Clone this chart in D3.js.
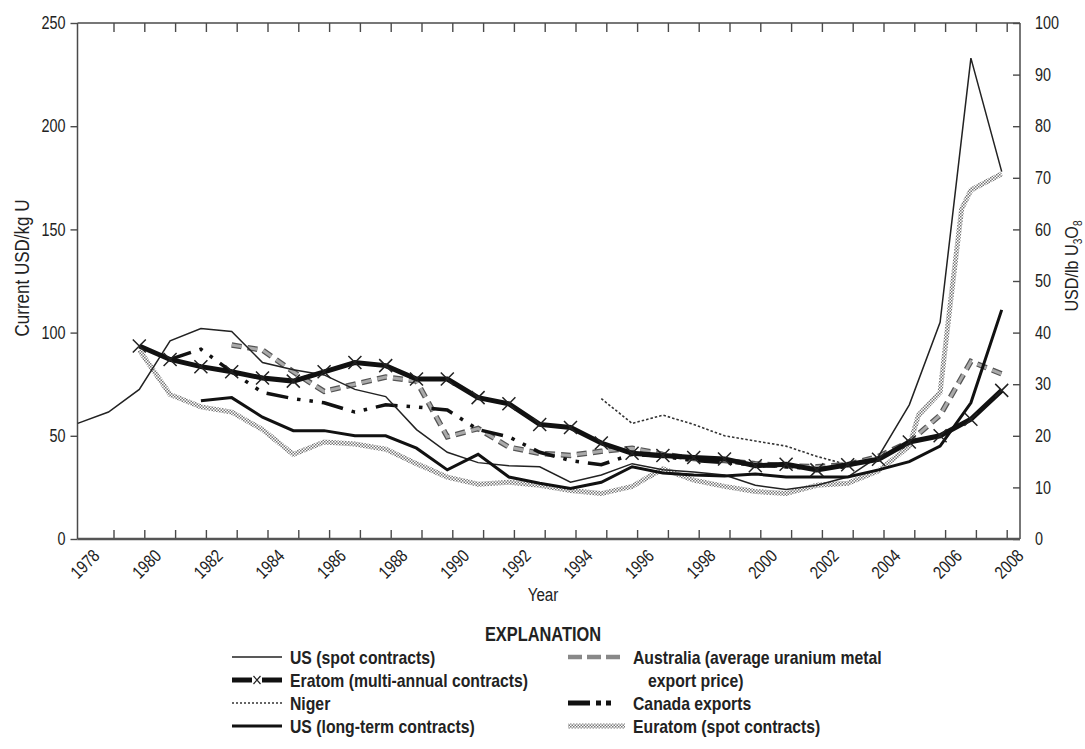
<!DOCTYPE html>
<html><head><meta charset="utf-8">
<script src="https://cdn.jsdelivr.net/npm/d3@7"></script>
<style>
html,body{margin:0;padding:0;background:#fff;}
svg{display:block;}
svg text{font-family:"Liberation Sans",Arial,sans-serif;fill:#222;}
</style></head>
<body>
<svg id="chart" width="1085" height="749"></svg>
<script>
// ---------- data (USD/kg U) ----------
const usSpotYears = [1978,1979,1980,1981,1982,1983,1984,1985,1986,1987,1988,1989,1990,1991,1992,1993,1994,1995,1996,1997,1998,1999,2000,2001,2002,2003,2004,2005,2006,2007,2008];
const usSpotValues = [56,61.5,72.5,96,102,100.5,85.5,82,79.5,72.5,69,53,42,37,35.5,35,27.5,31,36.5,33.5,32.5,31,26,24,26,30,40,65,105,233,178];

const eratomYears = [1980,1981,1982,1983,1984,1985,1986,1987,1988,1989,1990,1991,1992,1993,1994,1995,1996,1997,1998,1999,2000,2001,2002,2003,2004,2005,2006,2007,2008];
const eratomValues = [93.5,87,83.5,81,78,76.5,81,85.5,84,77.5,77.5,68.5,65.5,55.5,54,46.5,41.5,40.5,39.5,38.8,35.5,36.2,33.5,36,38.6,47,50,58,72];

const nigerYears = [1995,1996,1997,1998,1999,2000,2001,2002,2003];
const nigerValues = [68,56,60,55.5,50,47.5,45,40,36];

const usLongYears = [1982,1983,1984,1985,1986,1987,1988,1989,1990,1991,1992,1993,1994,1995,1996,1997,1998,1999,2000,2001,2002,2003,2004,2005,2006,2007,2008];
const usLongValues = [67,68.5,59,52.5,52.5,50,50,44,33.5,41,30,27,24.5,27.5,35,32,31,30.5,31.5,30,30,30,33.5,37.5,45,66,111];

const australiaYears = [1983,1984,1985,1986,1987,1988,1989,1990,1991,1992,1993,1994,1995,1996,1997,1998,1999,2000,2001,2002,2003,2004,2005,2006,2007,2008];
const australiaValues = [94,91.5,81,71.5,75,78.5,76.5,49.5,53.5,44.5,41.5,40.5,42.5,44,41,39,38,36.5,35.5,35,36,40,47,60,86,80];

const canadaYears = [1981,1982,1983,1984,1985,1986,1987,1988,1989,1990,1991,1992,1993,1994,1995,1996,1997,1998,1999,2000,2001,2002,2003];
const canadaValues = [87,92,81,71,68,66,61.5,65,64,62.5,53,49.5,42,38,36,41,40,38,37,36,35,34,35];

const euratomSpotYears = [1980,1981,1982,1983,1984,1985,1986,1987,1988,1989,1990,1991,1992,1993,1994,1995,1996,1997,1998,1999,2000,2001,2002,2003,2004,2005,2005.3,2006,2006.3,2006.7,2007,2008];
const euratomSpotValues = [91.5,70,64,61.5,53,41,47,46,43.5,36.5,30,26.5,27.5,26,23.5,22,25.5,34,28.5,25.5,23,22,26,27,33,45,60,71,110,160,169,177];

const leftTicks = [0,50,100,150,200,250];
const rightTicks = [0,10,20,30,40,50,60,70,80,90,100];
const yearLabels = d3.range(1978,2009,2);
const yearTicks = d3.range(1979,2009,1);

// ---------- layout ----------
const svg = d3.select("#chart");
const L = 77.5, R = 1020, T = 23, B = 539;
const xAxisScale = d3.scaleLinear().domain([1978,2008]).range([82.7,1006.7]);
const xData = d3.scaleLinear().domain([1978,2008]).range([77.7,1001.7]);
const y = d3.scaleLinear().domain([0,250]).range([B,T]);
const y2 = d3.scaleLinear().domain([0,100]).range([B,T]);
const NARROW = 0.8;

function ctext(parent, o){
  const t = parent.append("text")
    .attr("transform",`translate(${o.x},${o.y})${o.rot?` rotate(${o.rot})`:""} scale(${o.sx||NARROW},1)`)
    .attr("text-anchor",o.anchor||"start")
    .attr("font-size",o.size||17)
    .attr("font-weight",o.weight||"normal");
  if(o.dy) t.attr("dy",o.dy);
  if(o.text!==undefined) t.text(o.text);
  return t;
}

const defs = svg.append("defs");
const pat = defs.append("pattern").attr("id","checker").attr("patternUnits","userSpaceOnUse")
  .attr("width",3).attr("height",3);
pat.append("rect").attr("x",0).attr("y",0).attr("width",1.5).attr("height",1.5).attr("fill","#777");
pat.append("rect").attr("x",1.5).attr("y",1.5).attr("width",1.5).attr("height",1.5).attr("fill","#777");

const axisColor = "#4a4a4a";
svg.append("line").attr("x1",L).attr("x2",R).attr("y1",T).attr("y2",T).attr("stroke",axisColor).attr("stroke-width",1.5);
svg.append("line").attr("x1",L).attr("x2",L).attr("y1",T).attr("y2",B).attr("stroke",axisColor).attr("stroke-width",1.5);
svg.append("line").attr("x1",R).attr("x2",R).attr("y1",T).attr("y2",B).attr("stroke",axisColor).attr("stroke-width",1.5);

const gl = svg.append("g").attr("transform",`translate(${L},0)`)
  .call(d3.axisLeft(y).tickValues(leftTicks).tickSize(7).tickPadding(5));
gl.select(".domain").remove();
const gr = svg.append("g").attr("transform",`translate(${R},0)`)
  .call(d3.axisRight(y2).tickValues(rightTicks).tickSize(-7).tickPadding(15));
gr.select(".domain").remove();
const gt = svg.append("g").attr("transform",`translate(0,${T})`)
  .call(d3.axisTop(xAxisScale).tickValues(yearTicks).tickSize(-9).tickFormat(""));
gt.select(".domain").remove();
const gb = svg.append("g").attr("transform",`translate(0,${B})`)
  .call(d3.axisBottom(xAxisScale).tickValues(yearTicks).tickSize(-9).tickFormat(""));
gb.select(".domain").remove();
svg.selectAll(".tick line").attr("stroke",axisColor).attr("stroke-width",1.4);
svg.selectAll(".tick text").each(function(){
  const s = d3.select(this); const x0 = +s.attr("x");
  s.attr("x",0).attr("transform",`translate(${x0},0) scale(${NARROW},1)`)
   .attr("font-size",18).attr("fill","#222").attr("font-family",null);
});
svg.append("line").attr("x1",L).attr("x2",R).attr("y1",B).attr("y2",B).attr("stroke","#555").attr("stroke-width",2.5);

const xl = svg.append("g");
yearLabels.forEach(d=>ctext(xl,{x:xAxisScale(d)+9,y:B+9,rot:-45,anchor:"end",size:18,dy:"0.71em",text:d}));

ctext(svg,{x:543,y:601,anchor:"middle",size:19,text:"Year"});
ctext(svg,{x:29,y:268,rot:-90,anchor:"middle",size:20,sx:0.85,text:"Current USD/kg U"});
const rt = ctext(svg,{x:1078,y:266,rot:-90,anchor:"middle",size:19,sx:0.85});
rt.append("tspan").text("USD/lb U");
rt.append("tspan").attr("font-size",12).attr("dy",4).text("3");
rt.append("tspan").attr("font-size",19).attr("dy",-4).text("O");
rt.append("tspan").attr("font-size",12).attr("dy",4).text("8");

// ---------- lines ----------
const lineGen = d3.line().x(d=>xData(d[0])).y(d=>y(d[1]));
const zip = (a,b)=>a.map((v,i)=>[v,b[i]]);
const plot = svg.append("g");

plot.append("path").datum(zip(euratomSpotYears,euratomSpotValues)).attr("d",lineGen)
  .attr("fill","none").attr("stroke","url(#checker)").attr("stroke-width",5);
plot.append("path").datum(zip(nigerYears,nigerValues)).attr("d",lineGen)
  .attr("fill","none").attr("stroke","#333").attr("stroke-width",1.6).attr("stroke-dasharray","2.5,2");
plot.append("path").datum(zip(australiaYears,australiaValues)).attr("d",lineGen)
  .attr("fill","none").attr("stroke","#555").attr("stroke-width",5.5).attr("stroke-dasharray","10,6");
plot.append("path").datum(zip(australiaYears,australiaValues)).attr("d",lineGen)
  .attr("fill","none").attr("stroke","#aaa").attr("stroke-width",3).attr("stroke-dasharray","10,6");
plot.append("path").datum(zip(canadaYears,canadaValues)).attr("d",lineGen)
  .attr("fill","none").attr("stroke","#111").attr("stroke-width",3.5).attr("stroke-dasharray","22,9,3.5,9,3.5,9");
plot.append("path").datum(zip(usSpotYears,usSpotValues)).attr("d",lineGen)
  .attr("fill","none").attr("stroke","#222").attr("stroke-width",1.5);
plot.append("path").datum(zip(usLongYears,usLongValues)).attr("d",lineGen)
  .attr("fill","none").attr("stroke","#111").attr("stroke-width",3);
plot.append("path").datum(zip(eratomYears,eratomValues)).attr("d",lineGen)
  .attr("fill","none").attr("stroke","#111").attr("stroke-width",5);
const xs = 6.5;
plot.append("g").selectAll("path").data(zip(eratomYears,eratomValues)).join("path")
  .attr("d",d=>{const cx=xData(d[0]), cy=y(d[1]); return `M${cx-xs},${cy-xs}L${cx+xs},${cy+xs}M${cx-xs},${cy+xs}L${cx+xs},${cy-xs}`;})
  .attr("stroke","#222").attr("stroke-width",1.5).attr("fill","none");

// ---------- legend ----------
const lg = svg.append("g");
ctext(lg,{x:543,y:641,anchor:"middle",size:20,weight:"bold",sx:0.82,text:"EXPLANATION"});
const rows = [657,680,703,726];
const lx1 = 232, lx2 = 282, tx = 290;
const rx1 = 568, rx2 = 625, rtx = 633;
function label(x, yy, s){ ctext(lg,{x:x,y:yy,dy:"0.35em",size:19,weight:"bold",sx:0.83,text:s}); }
lg.append("line").attr("x1",lx1).attr("x2",lx2).attr("y1",rows[0]).attr("y2",rows[0]).attr("stroke","#222").attr("stroke-width",1.5);
label(tx,rows[0],"US (spot contracts)");
lg.append("line").attr("x1",lx1).attr("x2",252).attr("y1",rows[1]).attr("y2",rows[1]).attr("stroke","#111").attr("stroke-width",5);
lg.append("line").attr("x1",262).attr("x2",lx2).attr("y1",rows[1]).attr("y2",rows[1]).attr("stroke","#111").attr("stroke-width",5);
lg.append("path").attr("d",`M253.5,${rows[1]-4}L260.5,${rows[1]+4}M253.5,${rows[1]+4}L260.5,${rows[1]-4}`).attr("stroke","#222").attr("stroke-width",1.2);
label(tx,rows[1],"Eratom (multi-annual contracts)");
lg.append("line").attr("x1",lx1).attr("x2",lx2).attr("y1",rows[2]).attr("y2",rows[2]).attr("stroke","#333").attr("stroke-width",1.6).attr("stroke-dasharray","2,2");
label(tx,rows[2],"Niger");
lg.append("line").attr("x1",lx1).attr("x2",lx2).attr("y1",rows[3]).attr("y2",rows[3]).attr("stroke","#111").attr("stroke-width",3);
label(tx,rows[3],"US (long-term contracts)");
lg.append("line").attr("x1",rx1).attr("x2",rx2).attr("y1",rows[0]).attr("y2",rows[0]).attr("stroke","#888").attr("stroke-width",4.5).attr("stroke-dasharray","14,5");
label(rtx,rows[0],"Australia (average uranium metal");
label(648,rows[1],"export price)");
lg.append("line").attr("x1",rx1).attr("x2",rx1+22).attr("y1",rows[2]).attr("y2",rows[2]).attr("stroke","#111").attr("stroke-width",5);
lg.append("rect").attr("x",rx1+28).attr("y",rows[2]-2.5).attr("width",5).attr("height",5).attr("fill","#111");
lg.append("rect").attr("x",rx1+38).attr("y",rows[2]-2.5).attr("width",5).attr("height",5).attr("fill","#111");
label(rtx,rows[2],"Canada exports");
lg.append("line").attr("x1",rx1).attr("x2",rx2).attr("y1",rows[3]).attr("y2",rows[3]).attr("stroke","url(#checker)").attr("stroke-width",5);
label(rtx,rows[3],"Euratom (spot contracts)");
</script>
</body></html>
